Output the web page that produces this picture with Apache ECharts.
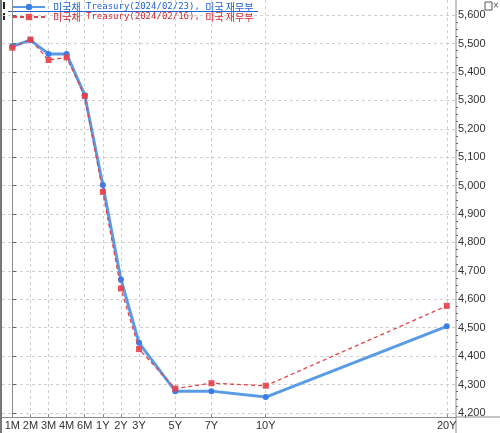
<!DOCTYPE html>
<html><head><meta charset="utf-8">
<script src="https://cdn.jsdelivr.net/npm/echarts@6/dist/echarts.min.js"></script>
<style>html,body{margin:0;padding:0;background:#fff}#c{width:500px;height:433px}</style>
</head><body><div id="c"></div>
<script>
const tenorLabels = ['1M','2M','3M','4M','6M','1Y','2Y','3Y','5Y','7Y','10Y','20Y'];
const tenorPos = [0,1,2,3,4,5,6,7,9,11,14,24];
const yield0223 = [5490,5512,5463,5463,5318,5002,4670,4447,4277,4277,4256,4505];
const yield0216 = [5485,5514,5442,5451,5315,4978,4638,4425,4286,4305,4296,4577];
const yTicks = [4200,4300,4400,4500,4600,4700,4800,4900,5000,5100,5200,5300,5400,5500,5600];
const yMinorTicks = [];
for (let i = 0; i < yTicks.length - 1; i++) for (let k = 1; k < 4; k++) yMinorTicks.push(yTicks[i] + k * (yTicks[i+1]-yTicks[i]) / 4);
const name1 = '미국채 Treasury(2024/02/23), 미국 재무부';
const name2 = '미국채 Treasury(2024/02/16), 미국 재무부';

const chart = echarts.init(document.getElementById('c'));
const pair = (vals) => tenorPos.map((p,i)=>[p, vals[i]]);
const kFont = 'Noto Sans CJK KR', mFont = 'DejaVu Sans Mono';
chart.setOption({
  animation:false,
  backgroundColor:'#fff',
  grid:{left:2,right:44,top:0,bottom:16},
  legend:{
    left:7, top:-3, orient:'vertical', itemGap:0, itemWidth:32, itemHeight:8,
    textStyle:{fontSize:10, padding:[0,0,0,3],
      rich:{
        k1:{fontFamily:kFont,fontSize:10,color:'#1f63d6'}, m1:{fontFamily:mFont,fontSize:9,color:'#1f63d6'},
        k2:{fontFamily:kFont,fontSize:10,color:'#d8262f'}, m2:{fontFamily:mFont,fontSize:9,color:'#d8262f'}
      }},
    formatter:(n)=>{
      const s = n===name1 ? '1' : '2';
      const parts = n.split(' ');
      return '{k'+s+'|'+parts[0]+'}{m'+s+'| '+parts[1]+' }{k'+s+'|'+parts[2]+' '+parts[3]+'}';
    },
    data:[name1, name2]
  },
  xAxis:{
    type:'value', min:-0.57, max:24.51,
    axisLine:{lineStyle:{color:'#8c8c8c', width:1}},
    axisTick:{inside:true, length:3, customValues:tenorPos, lineStyle:{color:'#8c8c8c'}},
    axisLabel:{customValues:tenorPos, margin:3, fontSize:11, color:'#333', fontFamily:'Liberation Sans',
      formatter:(v)=>{const i=tenorPos.indexOf(v); return i>=0?tenorLabels[i]:'';}},
    splitLine:{show:true, lineStyle:{color:'#cfcfcf', type:[3,3]}}
  },
  yAxis:[{
    type:'value', position:'right', min:4186, max:5653,
    axisLine:{show:true, lineStyle:{color:'#8c8c8c'}},
    axisTick:{show:true, length:4, customValues:yTicks, lineStyle:{color:'#666'}},
    axisLabel:{customValues:yTicks, margin:2, fontSize:11, color:'#333', fontFamily:'Liberation Sans',
      formatter:(v)=>v.toLocaleString('en-US')},
    splitLine:{show:true, lineStyle:{color:'#cfcfcf', type:[3,3]}}
  },{
    type:'value', position:'right', min:4186, max:5653,
    axisLine:{show:false},
    axisTick:{show:true, length:2, customValues:yMinorTicks, lineStyle:{color:'#666'}},
    axisLabel:{show:false}, splitLine:{show:false}
  }],
  series:[
    {name:name1, type:'line', data:pair(yield0223), symbol:'circle', symbolSize:6,
      lineStyle:{color:'#5a9be8', width:3}, itemStyle:{color:'#3b7ee6'}, z:2},
    {name:name2, type:'line', data:pair(yield0216), symbol:'rect', symbolSize:6,
      lineStyle:{color:'#e0444c', width:1.3, type:[4,3]}, itemStyle:{color:'#e8404a', opacity:0.9}, z:3}
  ],
  graphic:[
    {type:'line', shape:{x1:456,y1:0,x2:456,y2:433}, style:{stroke:'#8c8c8c', lineWidth:1}},
    {type:'line', shape:{x1:456,y1:417,x2:500,y2:417}, style:{stroke:'#8c8c8c', lineWidth:1}},
    {type:'line', shape:{x1:1,y1:0,x2:1,y2:433}, style:{stroke:'#777', lineWidth:2}},
    {type:'line', shape:{x1:8,y1:11.5,x2:258,y2:11.5}, style:{stroke:'#1f63d6', lineWidth:1}},
    {type:'rect', shape:{x:3,y:2,width:2,height:7}, style:{fill:'#222'}},
    {type:'rect', shape:{x:3,y:13,width:2,height:7}, style:{fill:'#222'}},
    {type:'rect', shape:{x:485,y:2,width:7,height:8}, style:{fill:'#fff', stroke:'#555', lineWidth:1}},
    {type:'text', x:493, y:1, style:{text:'×', fontSize:10, fill:'#555'}}
  ]
});
</script></body></html>
